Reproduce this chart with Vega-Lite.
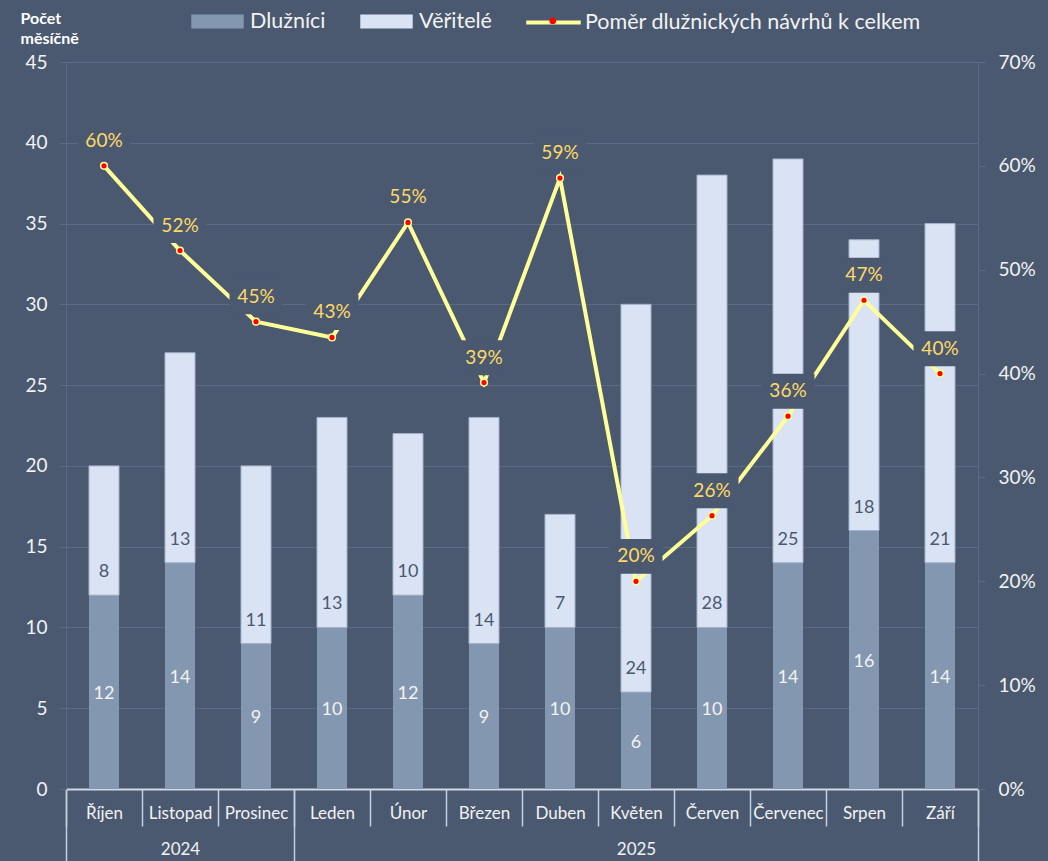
{
  "$schema": "https://vega.github.io/schema/vega-lite/v6.json",
  "width": 912,
  "height": 727,
  "autosize": "none",
  "padding": {"left": 66, "top": 62, "right": 70, "bottom": 72},
  "background": "#4a5970",
  "config": {
    "font": "Lato",
    "view": {"stroke": null},
    "legend": {"padding": 0, "labelColor": "#f2f2f2", "labelFontSize": 21.5, "labelFont": "Lato", "labelLimit": 600},
    "axis": {"labelFont": "Lato", "labelColor": "#f2f2f2"}
  },
  "datasets": {
    "wide": [
      {"month": "Říjen", "year": 2024, "Dlužníci": 12, "Věřitelé": 8, "pct": 0.6},
      {"month": "Listopad", "year": 2024, "Dlužníci": 14, "Věřitelé": 13, "pct": 0.5185},
      {"month": "Prosinec", "year": 2024, "Dlužníci": 9, "Věřitelé": 11, "pct": 0.45},
      {"month": "Leden", "year": 2025, "Dlužníci": 10, "Věřitelé": 13, "pct": 0.4348},
      {"month": "Únor", "year": 2025, "Dlužníci": 12, "Věřitelé": 10, "pct": 0.5455},
      {"month": "Březen", "year": 2025, "Dlužníci": 9, "Věřitelé": 14, "pct": 0.3913},
      {"month": "Duben", "year": 2025, "Dlužníci": 10, "Věřitelé": 7, "pct": 0.5882},
      {"month": "Květen", "year": 2025, "Dlužníci": 6, "Věřitelé": 24, "pct": 0.2},
      {"month": "Červen", "year": 2025, "Dlužníci": 10, "Věřitelé": 28, "pct": 0.2632},
      {"month": "Červenec", "year": 2025, "Dlužníci": 14, "Věřitelé": 25, "pct": 0.359},
      {"month": "Srpen", "year": 2025, "Dlužníci": 16, "Věřitelé": 18, "pct": 0.4706},
      {"month": "Září", "year": 2025, "Dlužníci": 14, "Věřitelé": 21, "pct": 0.4}
    ]
  },
  "data": {"name": "wide"},
  "layer": [
    {
      "transform": [{"fold": ["Dlužníci", "Věřitelé"], "as": ["series", "value"]}],
      "encoding": {
        "x": {
          "field": "month", "type": "ordinal",
          "sort": ["Říjen", "Listopad", "Prosinec", "Leden", "Únor", "Březen", "Duben", "Květen", "Červen", "Červenec", "Srpen", "Září"],
          "scale": {"paddingInner": 0, "paddingOuter": 0},
          "axis": {
            "title": null, "orient": "bottom", "tickBand": "extent", "tickSize": 37, "tickColor": "#c5cfdf", "tickWidth": 1.5,
            "domainColor": "#d0d8e6", "domainWidth": 2, "labelAngle": 0, "labelBaseline": "middle", "labelPadding": -13,
            "labelFontSize": 17, "labelColor": "#f2f2f2", "grid": false
          }
        },
        "order": {"field": "series", "type": "nominal", "sort": "ascending"}
      },
      "layer": [
        {
          "mark": {"type": "bar", "width": {"band": 0.395}, "stroke": "#a3b1ca", "strokeWidth": 1},
          "encoding": {
            "y": {
              "field": "value", "type": "quantitative", "stack": "zero",
              "scale": {"domain": [0, 45], "nice": false, "zero": true},
              "axis": {
                "values": [0, 5, 10, 15, 20, 25, 30, 35, 40, 45],
                "title": ["Počet", "měsíčně"], "titleAngle": 0, "titleAlign": "left", "titleBaseline": "alphabetic",
                "titleX": -46, "titleY": -39, "titleLineHeight": 20, "titleFontSize": 16, "titleFontWeight": "bold", "titleColor": "#ffffff", "titleFont": "Lato",
                "grid": true, "gridColor": "#5b6b86", "gridWidth": 1,
                "domainColor": "#5b6b86", "tickColor": "#5b6b86", "tickSize": 7, "labelPadding": 12,
                "labelFontSize": 19, "labelColor": "#f2f2f2"
              }
            },
            "color": {
              "field": "series", "type": "nominal",
              "scale": {"domain": ["Dlužníci", "Věřitelé"], "range": ["#8497b0", "#dae3f3"]},
              "legend": {
                "title": null, "orient": "none", "direction": "horizontal", "legendX": 125, "legendY": -67,
                "symbolType": "M-1,-0.27L1,-0.27L1,0.27L-1,0.27Z", "symbolSize": 2750, "symbolStrokeWidth": 0,
                "labelOffset": 6, "columnPadding": 34
              }
            },
            "strokeOpacity": {"condition": {"test": "datum.series === 'Věřitelé'", "value": 1}, "value": 0}
          }
        },
        {
          "mark": {"type": "text", "fontSize": 18, "color": "#f2f2f2", "dy": 2},
          "encoding": {
            "y": {"field": "value", "type": "quantitative", "stack": "zero", "bandPosition": 0.5},
            "detail": {"field": "series"},
            "text": {"condition": {"test": "datum.series === 'Dlužníci'", "field": "value", "type": "quantitative"}, "value": ""}
          }
        },
        {
          "mark": {"type": "text", "fontSize": 18, "color": "#4b5870", "dy": -23},
          "encoding": {
            "y": {"field": "value", "type": "quantitative", "stack": "zero", "bandPosition": 0},
            "detail": {"field": "series"},
            "text": {"condition": {"test": "datum.series === 'Věřitelé'", "field": "value", "type": "quantitative"}, "value": ""}
          }
        }
      ]
    },
    {
      "encoding": {
        "x": {
          "field": "month", "type": "ordinal",
          "sort": ["Říjen", "Listopad", "Prosinec", "Leden", "Únor", "Březen", "Duben", "Květen", "Červen", "Červenec", "Srpen", "Září"],
          "axis": {
            "title": null, "orient": "bottom", "domain": false, "tickBand": "extent", "tickSize": 72, "tickWidth": 1.5,
            "tickColor": {"condition": {"test": "datum.index < 0 || datum.value === 'Prosinec' || datum.value === 'Září'", "value": "#c5cfdf"}, "value": "transparent"},
            "labelExpr": "datum.value === 'Listopad' ? '2024' : datum.value === 'Květen' ? '2025' : ''",
            "labelAngle": 0, "labelBaseline": "middle", "labelPadding": -11.5, "labelFontSize": 17, "labelColor": "#f2f2f2", "grid": false
          }
        },
        "y": {
          "field": "pct", "type": "quantitative",
          "scale": {"domain": [0, 0.7], "nice": false},
          "axis": {
            "orient": "right", "title": null, "values": [0, 0.1, 0.2, 0.3, 0.4, 0.5, 0.6, 0.7], "format": ".0%",
            "grid": false, "domainColor": "#5b6b86", "tickColor": "#5b6b86", "tickSize": 7, "labelPadding": 13,
            "labelFontSize": 19, "labelColor": "#f2f2f2"
          }
        }
      },
      "layer": [
        {
          "mark": {"type": "line", "strokeWidth": 4},
          "encoding": {
            "stroke": {
              "datum": "Poměr dlužnických návrhů k celkem", "type": "nominal",
              "scale": {"range": ["#ffff99"]},
              "legend": {"title": null, "orient": "none", "legendX": 458, "legendY": -69, "symbolType": "stroke", "symbolSize": 2970, "symbolStrokeWidth": 4, "labelOffset": 2}
            }
          }
        },
        {
          "mark": {"type": "point", "filled": true, "fill": "#ff0000", "stroke": "#ffff99", "strokeWidth": 1.5, "size": 45, "opacity": 1},
          "encoding": {
            "shape": {
              "datum": "bod", "type": "nominal",
              "scale": {"range": ["circle"]},
              "legend": {"title": null, "orient": "none", "legendX": 476, "legendY": -52, "symbolFillColor": "#ff0000", "symbolStrokeColor": "#ffff99", "symbolStrokeWidth": 1.5, "symbolSize": 45, "labelExpr": "''"}
            }
          }
        },
        {
          "mark": {"type": "point", "shape": "M-1,-1.6L1,-1.6L1,-0.28L-1,-0.28Z", "size": 2809, "filled": true, "fill": "#4a5970", "strokeWidth": 0, "opacity": 1}
        },
        {
          "mark": {"type": "text", "dy": -25, "fontSize": 19, "color": "#ffd966"},
          "encoding": {"text": {"field": "pct", "type": "quantitative", "format": ".0%"}}
        }
      ]
    }
  ],
  "resolve": {"scale": {"y": "independent"}, "axis": {"x": "independent"}}
}
